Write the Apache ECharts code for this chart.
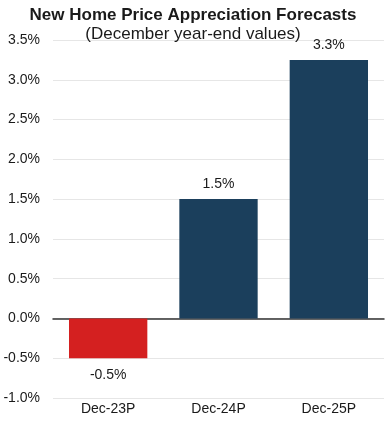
<!DOCTYPE html>
<html><head><meta charset="utf-8">
<script src="https://cdn.jsdelivr.net/npm/echarts@6/dist/echarts.min.js"></script>
<style>html,body{margin:0;padding:0;background:#fff}#c{width:386px;height:426px}</style>
</head><body><div id="c"></div>
<script>
var categories = ['Dec-23P', 'Dec-24P', 'Dec-25P'];
var values = [-0.5, 1.5, 3.25];
var valueLabels = ['-0.5%', '1.5%', '3.3%'];
var barColors = ['#D42020', '#1B3F5C', '#1B3F5C'];
var yTicks = { min: -1.0, max: 3.5, interval: 0.5 };

var chart = echarts.init(document.getElementById('c'), null, { renderer: 'canvas' });
var font = '"Liberation Sans", Arial, sans-serif';
chart.setOption({
  animation: false,
  textStyle: { fontFamily: font },
  title: [
    { text: 'New Home Price Appreciation Forecasts', left: 'center', top: 2,
      textStyle: { fontFamily: font, fontSize: 17, fontWeight: 'bold', color: '#1a1a1a' } },
    { text: '(December year-end values)', left: 'center', top: 21,
      textStyle: { fontFamily: font, fontSize: 17, fontWeight: 'normal', color: '#1a1a1a' } }
  ],
  grid: { left: 53, right: 2, top: 40, bottom: 28, containLabel: false },
  xAxis: {
    type: 'category', data: categories,
    axisLine: { onZero: true, lineStyle: { color: '#333', width: 1.5 } },
    axisTick: { show: false },
    axisLabel: { color: '#1a1a1a', fontSize: 14, fontFamily: font, margin: 4 },
    position: 'bottom'
  },
  yAxis: {
    type: 'value', min: yTicks.min, max: yTicks.max, interval: yTicks.interval,
    axisLine: { show: false }, axisTick: { show: false },
    axisLabel: { color: '#1a1a1a', fontSize: 14, fontFamily: font, margin: 13,
      formatter: function (v) { return v.toFixed(1) + '%'; } },
    splitLine: { lineStyle: { color: '#e6e6e6', width: 1 } }
  },
  series: [{
    type: 'bar', barWidth: '71%',
    data: values.map(function (v, i) {
      return { value: v, itemStyle: { color: barColors[i] },
        label: { position: v < 0 ? 'bottom' : 'top', distance: v < 0 ? 10 : 8 } };
    }),
    label: { show: true, fontSize: 14, color: '#1a1a1a', fontFamily: font,
      formatter: function (p) { return valueLabels[p.dataIndex]; } }
  }]
});
</script></body></html>
